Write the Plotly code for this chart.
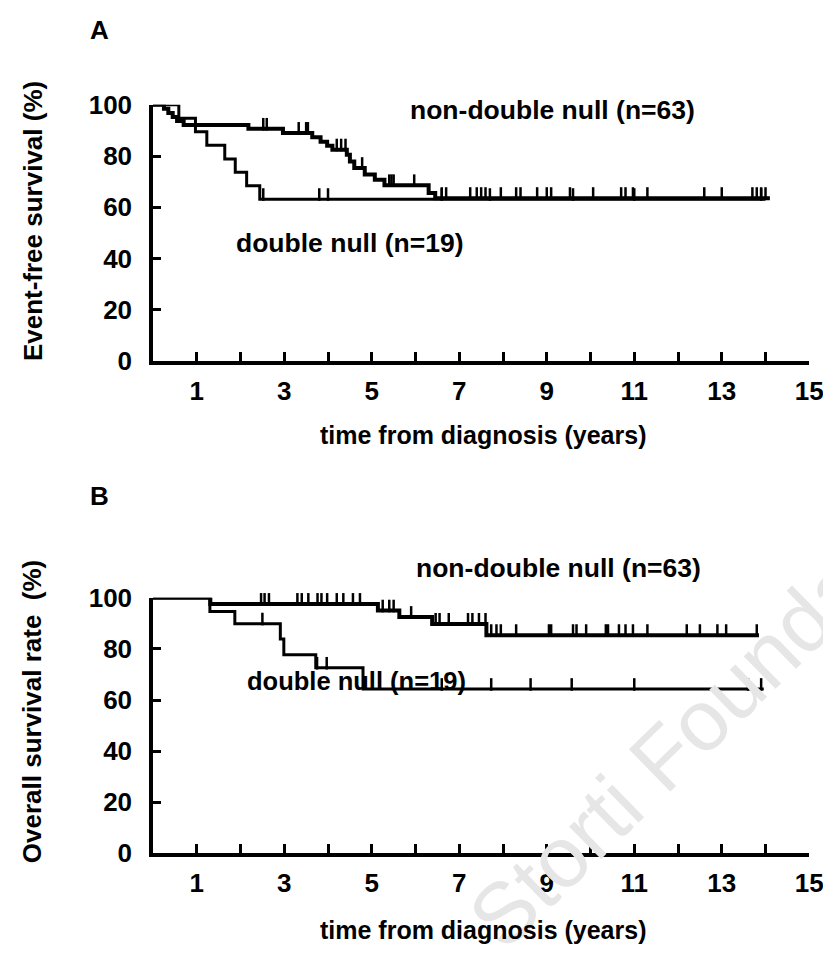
import plotly.graph_objects as go

# ---------------- data ----------------
# Panel A: event-free survival
a_nd_event_t = [0.25, 0.35, 0.45, 0.55, 0.7, 2.18, 2.97, 3.64, 3.83, 3.98, 4.1, 4.43, 4.5, 4.6, 4.84, 5.07, 5.29, 6.3, 6.45]
a_nd_event_s = [98.4, 96.8, 95.2, 93.7, 92.1, 90.6, 89.0, 87.3, 85.6, 84.0, 82.5, 80.5, 77.9, 75.3, 72.8, 70.8, 68.6, 65.6, 63.6]
a_nd_end = 14.1
a_nd_censor = [2.52, 2.6, 3.33, 3.5, 3.54, 4.2, 4.3, 4.4, 4.78, 5.4, 5.45, 5.5, 5.97, 6.6, 6.7, 7.25, 7.4, 7.5,
               7.6, 7.95, 8.3, 8.4, 8.78, 9.0, 9.1, 9.53, 10.06, 10.7, 10.8, 10.97, 11.3, 12.6, 13.0, 13.7, 13.8,
               13.9, 14.0]

a_dn_event_t = [0.59, 0.97, 1.23, 1.64, 1.88, 2.14, 2.44]
a_dn_event_s = [94.7, 89.5, 84.2, 78.9, 73.7, 68.4, 63.2]
a_dn_end = 14.0
a_dn_censor = [2.52, 3.8, 4.0, 6.6, 7.7, 9.6, 11.0, 13.9]

# Panel B: overall survival
b_nd_event_t = [1.31, 5.14, 5.63, 6.38, 7.62]
b_nd_event_s = [97.6, 95.0, 92.5, 89.8, 85.4]
b_nd_end = 13.85
b_nd_censor = [0.55, 0.65, 0.75, 1.2, 2.47, 2.55, 2.65, 3.3, 3.4, 3.55, 3.76, 3.85, 3.98, 4.2, 4.35, 4.57, 4.73,
               5.25, 5.4, 5.5, 5.9, 6.46, 6.55, 6.76, 7.2, 7.3, 7.45, 7.6, 7.73, 7.85, 7.95, 8.3, 9.05, 9.1, 9.6,
               9.68, 9.9, 10.35, 10.4, 10.65, 10.8, 10.97, 11.3, 12.2, 12.5, 12.9, 13.1, 13.8]

b_dn_event_t = [1.3, 1.87, 2.91, 2.99, 3.72, 4.8]
b_dn_event_s = [94.7, 89.9, 83.9, 77.7, 72.6, 64.3]
b_dn_end = 13.96
b_dn_censor = [2.5, 3.75, 3.97, 6.6, 7.73, 8.63, 9.57, 11.0, 13.6, 13.9]

x_ticks = list(range(1, 16))
x_tick_text = [str(v) if v % 2 == 1 else "" for v in x_ticks]
y_ticks = [0, 20, 40, 60, 80, 100]

label_nd = "non-double null (n=63)"
label_dn = "double null (n=19)"
x_title = "time from diagnosis (years)"
y_title_a = "Event-free survival (%)"
y_title_b = "Overall survival rate  (%)"
watermark = "Storti Foundation"

# ---------------- helpers ----------------
FONT = "Liberation Sans, Arial, sans-serif"
W, H = 831, 965
X_MAX = 15.0


def rx(px):
    return px


def ry(py):
    # target screen y -> figure y (compensates page offset / scaling)
    return (py - 23.1) / 0.9707


def step_xy(ev_t, ev_s, end):
    xs = [0.0] + list(ev_t) + [end]
    ys = [100.0] + list(ev_s) + [ev_s[-1]]
    return xs, ys


def surv_at(ev_t, ev_s, t):
    s = 100.0
    for et, es in zip(ev_t, ev_s):
        if et <= t:
            s = es
    return s


fig = go.Figure()


def add_curve(ev_t, ev_s, end, cens, width, xa, ya):
    xs, ys = step_xy(ev_t, ev_s, end)
    fig.add_trace(go.Scatter(x=xs, y=ys, mode="lines", line=dict(shape="hv", color="black", width=width),
                             xaxis=xa, yaxis=ya, cliponaxis=False, showlegend=False, hoverinfo="skip"))
    cy = [surv_at(ev_t, ev_s, t) + 1.8 for t in cens]
    fig.add_trace(go.Scatter(x=cens, y=cy, mode="markers",
                             marker=dict(symbol="line-ns", size=9, line=dict(color="black", width=2.5)),
                             xaxis=xa, yaxis=ya, cliponaxis=False, showlegend=False, hoverinfo="skip"))


add_curve(a_dn_event_t, a_dn_event_s, a_dn_end, a_dn_censor, 3, "x", "y")
add_curve(a_nd_event_t, a_nd_event_s, a_nd_end, a_nd_censor, 4, "x", "y")
add_curve(b_dn_event_t, b_dn_event_s, b_dn_end, b_dn_censor, 3, "x2", "y2")
add_curve(b_nd_event_t, b_nd_event_s, b_nd_end, b_nd_censor, 4, "x2", "y2")

xdom = [rx(147.5) / W, rx(815) / W]


def ydom(top_px, bot_px):
    return [1 - ry(bot_px) / H, 1 - ry(top_px) / H]


xaxis_common = dict(range=[0, X_MAX], domain=xdom, showgrid=False, zeroline=False, showline=True,
                    linecolor="black", linewidth=3.5, ticks="inside", ticklen=10, tickwidth=2.5,
                    tickcolor="black", tickvals=x_ticks, ticktext=x_tick_text,
                    tickfont=dict(family=FONT, size=26, color="black", weight="bold"),
                    ticklabelstandoff=4, ticklabeloverflow="allow")
yaxis_common = dict(range=[0, 100], showgrid=False, zeroline=False, showline=True,
                    linecolor="black", linewidth=3.5, ticks="inside", ticklen=8, tickwidth=2.5,
                    tickcolor="black", tickvals=y_ticks,
                    tickfont=dict(family=FONT, size=26, color="black", weight="bold"),
                    ticklabelstandoff=12)

fig.update_layout(
    width=W, height=H, margin=dict(l=0, r=0, t=0, b=0),
    paper_bgcolor="white", plot_bgcolor="white",
    xaxis=dict(**xaxis_common, anchor="y"),
    yaxis=dict(**yaxis_common, domain=ydom(105, 362), anchor="x"),
    xaxis2=dict(**xaxis_common, anchor="y2"),
    yaxis2=dict(**yaxis_common, domain=ydom(599, 855), anchor="x2"),
)


def font(size, color="black", bold=True):
    return dict(family=FONT, size=size, color=color, weight="bold" if bold else "normal")


def px_ann(text, cx, cy, size, angle=0, color="black", bold=True):
    fig.add_annotation(text=text, x=rx(cx) / W, y=1 - ry(cy) / H, xref="paper", yref="paper",
                       xanchor="center", yanchor="middle", showarrow=False, textangle=angle,
                       font=font(size, color, bold))


def data_ann(text, t, val, panel, size):
    # position given in data units (years, %), placed via the axis domain so it may sit above 100 %
    fig.add_annotation(text=text, x=t / X_MAX, y=val / 100.0,
                       xref=("x" if panel == 1 else "x2") + " domain",
                       yref=("y" if panel == 1 else "y2") + " domain",
                       xanchor="center", yanchor="middle", showarrow=False, font=font(size))


# watermark first so other text sits above it
px_ann(watermark, 722, 704, 86, angle=-44.3, color="#e6e6e6", bold=False)

px_ann("A", 93, 30, 26)
px_ann("B", 93, 497, 26)
data_ann(label_nd, 9.12, 98.0, 1, 26.5)
data_ann(label_dn, 4.5, 46.3, 1, 26.5)
data_ann(label_nd, 9.26, 111.7, 2, 26.5)
data_ann(label_dn, 4.64, 67.6, 2, 25.5)
px_ann(y_title_a, 25, 222, 26, angle=-90)
px_ann(y_title_b, 24, 713, 26, angle=-90)
px_ann(x_title, 483, 436, 25)
px_ann(x_title, 483, 932, 25)

fig.write_html("out.html")
